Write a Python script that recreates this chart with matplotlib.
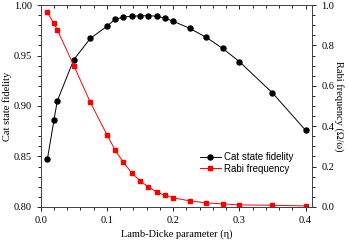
import matplotlib
matplotlib.use('Agg')
import matplotlib.pyplot as plt
from matplotlib.ticker import MultipleLocator

# data
eta = [0.01, 0.02, 0.025, 0.05, 0.075, 0.1, 0.1125, 0.125, 0.1375, 0.15,
       0.1625, 0.175, 0.1875, 0.2, 0.225, 0.25, 0.275, 0.3, 0.35, 0.4]
fidelity = [0.847, 0.886, 0.905, 0.946, 0.967, 0.979, 0.986, 0.988, 0.989, 0.9893,
            0.9895, 0.989, 0.987, 0.984, 0.977, 0.968, 0.957, 0.944, 0.913, 0.876]
rabi = [0.964, 0.909, 0.878, 0.700, 0.518, 0.358, 0.281, 0.221, 0.168, 0.129,
        0.099, 0.074, 0.058, 0.045, 0.030, 0.020, 0.015, 0.010, 0.008, 0.005]

serif = 'Liberation Serif'
fs = 7.5

fig = plt.figure(figsize=(3.48, 2.42), dpi=100)
ax = fig.add_axes([0.117, 0.145, 0.78, 0.834])
ax2 = ax.twinx()

l1, = ax.plot(eta, fidelity, '-o', color='black', lw=0.7, ms=3.6,
              label='Cat state fidelity')
l2, = ax2.plot(eta, rabi, '-s', color='red', lw=0.7, ms=3.2,
               label='Rabi frequency')

ax.set_xlim(0, 0.41)
ax.set_ylim(0.80, 1.00)
ax2.set_ylim(0.0, 1.0)

ax.xaxis.set_major_locator(MultipleLocator(0.1))
ax.xaxis.set_minor_locator(MultipleLocator(0.02))
ax.yaxis.set_major_locator(MultipleLocator(0.05))
ax.yaxis.set_minor_locator(MultipleLocator(0.01))
ax2.yaxis.set_major_locator(MultipleLocator(0.2))
ax2.yaxis.set_minor_locator(MultipleLocator(0.05))

# top axis: ticks pointing inward, no labels
top = ax.secondary_xaxis('top')
top.xaxis.set_major_locator(MultipleLocator(0.1))
top.xaxis.set_minor_locator(MultipleLocator(0.02))
top.tick_params(which='both', direction='in', labeltop=False)
top.tick_params(which='major', length=3, width=0.6)
top.tick_params(which='minor', length=2, width=0.6)
top.spines['top'].set_linewidth(0.7)
top.spines['top'].set_color('#444444')

ax.tick_params(axis='x', which='both', direction='out', labelsize=fs)
ax.tick_params(axis='y', which='both', direction='out', labelsize=fs)
ax2.tick_params(axis='y', which='both', direction='out', labelsize=fs)
for a in (ax, ax2):
    a.tick_params(which='major', length=3, width=0.6)
    a.tick_params(which='minor', length=2, width=0.6)
    for s in a.spines.values():
        s.set_linewidth(0.7)
        s.set_color('#444444')

ax.set_xticklabels([f'{v:.1f}' for v in ax.get_xticks()])
ax.set_yticklabels([f'{v:.2f}' for v in ax.get_yticks()])
ax2.set_yticklabels([f'{v:.1f}' for v in ax2.get_yticks()])
for lab in ax.get_xticklabels() + ax.get_yticklabels() + ax2.get_yticklabels():
    lab.set_fontfamily(serif)

ax.set_xlabel('Lamb-Dicke parameter (\u03b7)', fontfamily=serif, fontsize=fs, labelpad=3)
ax.set_ylabel('Cat state fidelity', fontfamily=serif, fontsize=fs, labelpad=1)
ax2.set_ylabel('Rabi frequency (\u03a9/\u03c9)', fontfamily=serif, fontsize=fs,
               rotation=270, labelpad=7)

leg = ax.legend(handles=[l1, l2], loc='lower left', bbox_to_anchor=(0.56, 0.13),
                frameon=False, prop={'family': 'Liberation Sans', 'size': 7},
                handlelength=2.2, handletextpad=0.3, labelspacing=0.15,
                borderpad=0.2)

fig.savefig('out.png', dpi=100)
